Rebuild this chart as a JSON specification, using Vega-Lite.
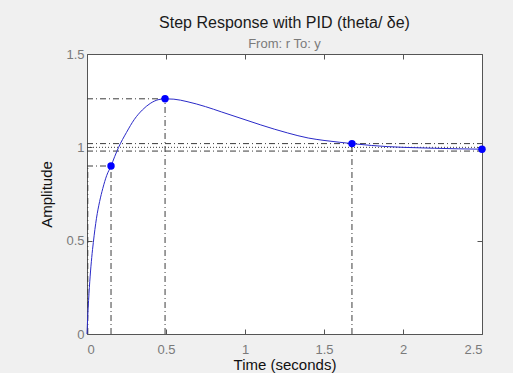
{
  "$schema": "https://vega.github.io/schema/vega-lite/v6.json",
  "width": 395,
  "height": 280,
  "autosize": {"type": "none"},
  "padding": {"left": 87, "top": 54, "right": 31, "bottom": 39},
  "background": "#f0f0f0",
  "config": {
    "view": {"fill": "white", "stroke": "#555555", "strokeWidth": 1},
    "font": "Liberation Sans",
    "axis": {
      "grid": false,
      "domain": false,
      "tickColor": "#555555",
      "tickSize": -5,
      "labelColor": "#7a7a7a",
      "labelFont": "Liberation Sans",
      "labelFontSize": 13,
      "titleFont": "Liberation Sans",
      "titleFontSize": 15,
      "titleFontWeight": "normal",
      "titleColor": "#111111"
    }
  },
  "title": {
    "text": "Step Response with PID (theta/ δe)",
    "subtitle": "From: r  To: y",
    "anchor": "middle",
    "frame": "group",
    "font": "Liberation Sans",
    "fontSize": 16,
    "fontWeight": "normal",
    "color": "#1a1a1a",
    "subtitleFont": "Liberation Sans",
    "subtitleFontSize": 13,
    "subtitleColor": "#7a7a7a",
    "subtitlePadding": 7,
    "offset": -3
  },
  "datasets": {
    "curve": [
      {"t": 0, "y": 0},
      {"t": 0.005, "y": 0.1},
      {"t": 0.01, "y": 0.18},
      {"t": 0.02, "y": 0.31},
      {"t": 0.03, "y": 0.41},
      {"t": 0.04, "y": 0.49},
      {"t": 0.05, "y": 0.56},
      {"t": 0.06, "y": 0.62},
      {"t": 0.08, "y": 0.71},
      {"t": 0.1, "y": 0.78},
      {"t": 0.125, "y": 0.85},
      {"t": 0.152, "y": 0.9},
      {"t": 0.175, "y": 0.95},
      {"t": 0.2, "y": 1.0},
      {"t": 0.25, "y": 1.08},
      {"t": 0.3, "y": 1.15},
      {"t": 0.35, "y": 1.2},
      {"t": 0.4, "y": 1.235},
      {"t": 0.45, "y": 1.255},
      {"t": 0.494, "y": 1.26},
      {"t": 0.55, "y": 1.258},
      {"t": 0.633, "y": 1.245},
      {"t": 0.75, "y": 1.218},
      {"t": 0.85, "y": 1.19},
      {"t": 1.0, "y": 1.148},
      {"t": 1.1, "y": 1.12},
      {"t": 1.27, "y": 1.077},
      {"t": 1.4, "y": 1.05},
      {"t": 1.5, "y": 1.037},
      {"t": 1.6, "y": 1.027},
      {"t": 1.677, "y": 1.02},
      {"t": 1.8, "y": 1.01},
      {"t": 1.9, "y": 1.004},
      {"t": 2.0, "y": 1.0},
      {"t": 2.2, "y": 0.995},
      {"t": 2.35, "y": 0.992},
      {"t": 2.5, "y": 0.99}
    ],
    "markers": [
      {"t": 0.152, "y": 0.9},
      {"t": 0.494, "y": 1.26},
      {"t": 1.677, "y": 1.02},
      {"t": 2.5, "y": 0.99}
    ],
    "dashdot": [
      {"x": 0.005, "x2": 0.005, "y": 0, "y2": 0.9},
      {"x": 0, "x2": 0.152, "y": 0.9, "y2": 0.9},
      {"x": 0.152, "x2": 0.152, "y": 0, "y2": 0.9},
      {"x": 0, "x2": 0.494, "y": 1.26, "y2": 1.26},
      {"x": 0.494, "x2": 0.494, "y": 0, "y2": 1.26},
      {"x": 1.677, "x2": 1.677, "y": 0, "y2": 1.02},
      {"x": 0, "x2": 2.5, "y": 1.02, "y2": 1.02},
      {"x": 0, "x2": 2.5, "y": 0.98, "y2": 0.98}
    ],
    "dotted": [
      {"x": 0, "x2": 2.5, "y": 1.0, "y2": 1.0}
    ]
  },
  "resolve": {"axis": {"x": "independent", "y": "independent"}},
  "layer": [
    {
      "data": {"name": "dashdot"},
      "mark": {"type": "rule", "color": "#3c3c3c", "strokeWidth": 1, "strokeDash": [6, 3, 1, 3]},
      "encoding": {
        "x": {"field": "x", "type": "quantitative",
              "scale": {"domain": [0, 2.5], "nice": false, "zero": false},
              "axis": {"orient": "bottom", "values": [0, 0.5, 1, 1.5, 2, 2.5], "format": "~g", "title": "Time (seconds)", "labelPadding": 14, "titlePadding": 1}},
        "x2": {"field": "x2"},
        "y": {"field": "y", "type": "quantitative",
              "scale": {"domain": [0, 1.5], "nice": false, "zero": false},
              "axis": {"orient": "left", "values": [0, 0.5, 1, 1.5], "format": "~g", "title": "Amplitude", "labelPadding": 8, "titlePadding": 11}},
        "y2": {"field": "y2"}
      }
    },
    {
      "data": {"name": "dotted"},
      "mark": {"type": "rule", "color": "#3c3c3c", "strokeWidth": 1, "strokeDash": [1, 2]},
      "encoding": {
        "x": {"field": "x", "type": "quantitative", "axis": null},
        "x2": {"field": "x2"},
        "y": {"field": "y", "type": "quantitative", "axis": null},
        "y2": {"field": "y2"}
      }
    },
    {
      "data": {"name": "curve"},
      "mark": {"type": "line", "color": "#2a2ac8", "strokeWidth": 1, "interpolate": "monotone"},
      "encoding": {
        "x": {"field": "t", "type": "quantitative", "axis": null},
        "y": {"field": "y", "type": "quantitative", "axis": null}
      }
    },
    {
      "data": {"name": "markers"},
      "mark": {"type": "point", "filled": true, "color": "#0000ff", "opacity": 1, "size": 55},
      "encoding": {
        "x": {"field": "t", "type": "quantitative",
              "axis": {"orient": "top", "values": [0, 0.5, 1, 1.5, 2, 2.5], "labels": false, "title": null}},
        "y": {"field": "y", "type": "quantitative",
              "axis": {"orient": "right", "values": [0, 0.5, 1, 1.5], "labels": false, "title": null}}
      }
    }
  ]
}
